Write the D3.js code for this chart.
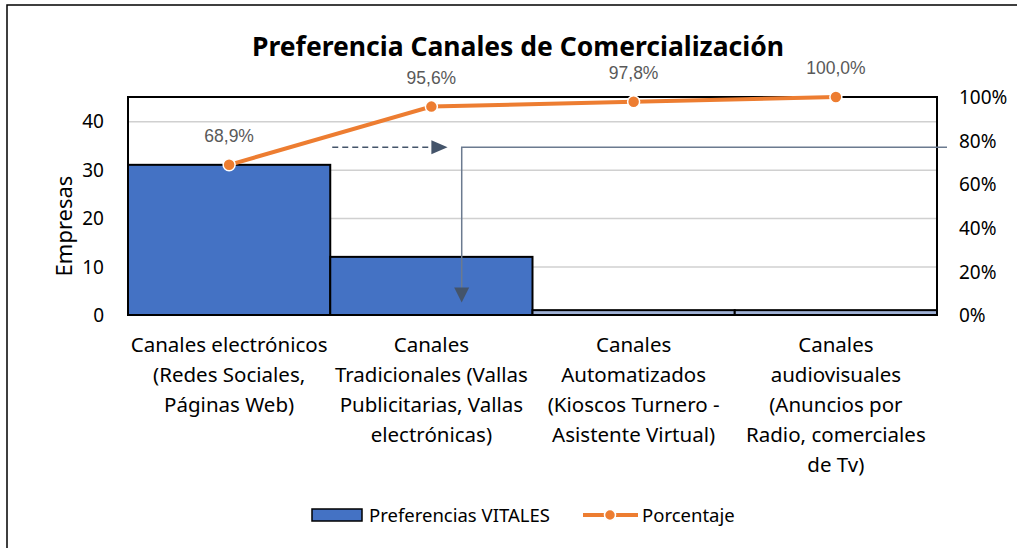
<!DOCTYPE html>
<html lang="es">
<head>
  <meta charset="UTF-8" />
  <title>Preferencia Canales de Comercialización</title>
  <style>
    *{margin:0;padding:0;box-sizing:border-box}
    body{background:#fff;width:1017px;height:548px;overflow:hidden}
    svg{display:block;font-family:"Noto Sans",sans-serif}
  </style>
</head>
<body>
  <svg id="chart" width="1017" height="548"></svg>

  <script src="https://d3js.org/d3.v7.min.js"></script>
  <script>
    // data
    const categories = ['Canales electrónicos', 'Canales Tradicionales', 'Canales Automatizados', 'Canales audiovisuales'];
    const catLines = [
      ['Canales electrónicos', '(Redes Sociales,', 'Páginas Web)'],
      ['Canales', 'Tradicionales (Vallas', 'Publicitarias, Vallas', 'electrónicas)'],
      ['Canales', 'Automatizados', '(Kioscos Turnero -', 'Asistente Virtual)'],
      ['Canales', 'audiovisuales', '(Anuncios por', 'Radio, comerciales', 'de Tv)']
    ];
    const empresas = [31, 12, 1, 1];
    const porcentaje = [0.689, 0.956, 0.978, 1.0];
    const leftTicks = [0, 10, 20, 30, 40];
    const rightTicks = [0, 0.2, 0.4, 0.6, 0.8, 1];

    const W = 1017, H = 548;
    const plot = { l: 128, r: 937, t: 97, b: 315 };
    const blue = '#4472C4', orange = '#ED7D31', slate = '#44546A';
    const font = '"Noto Sans", sans-serif';

    const svg = d3.select('#chart');

    // outer frame (runs off the right and bottom edge)
    svg.append('path')
      .attr('d', `M7,${H + 5}V5H${W + 5}`)
      .attr('fill', 'none').attr('stroke', '#000').attr('stroke-width', 1.5);

    const x = d3.scaleBand().domain(categories).range([plot.l, plot.r]).padding(0);
    const yL = d3.scaleLinear().domain([0, 45]).range([plot.b, plot.t]);
    const yR = d3.scaleLinear().domain([0, 1]).range([plot.b, plot.t]);

    const locale = d3.formatLocale({ decimal: ',', thousands: '.', grouping: [3], currency: ['', '€'] });
    const pct1 = locale.format('.1%');
    const pct0 = locale.format('.0%');

    // gridlines
    svg.append('g')
      .attr('transform', `translate(${plot.l},0)`)
      .call(d3.axisLeft(yL).tickValues(leftTicks.slice(1)).tickSize(-(plot.r - plot.l)).tickFormat(''))
      .call(g => g.select('.domain').remove())
      .call(g => g.selectAll('line').attr('stroke', '#d0d0d0').attr('stroke-width', 1.5));

    // bars
    svg.append('g').selectAll('rect')
      .data(empresas)
      .join('rect')
      .attr('x', (d, i) => x(categories[i]))
      .attr('y', d => yL(d))
      .attr('width', x.bandwidth())
      .attr('height', d => yL(0) - yL(d))
      .attr('fill', d => d > 2 ? blue : '#9fb1d6')
      .attr('stroke', '#000').attr('stroke-width', 2);

    // plot border
    svg.append('rect')
      .attr('x', plot.l).attr('y', plot.t)
      .attr('width', plot.r - plot.l).attr('height', plot.b - plot.t)
      .attr('fill', 'none').attr('stroke', '#000').attr('stroke-width', 2);

    // left axis
    svg.append('g')
      .attr('transform', `translate(${plot.l - 10},0)`)
      .call(d3.axisLeft(yL).tickValues(leftTicks).tickSize(0).tickPadding(14))
      .call(g => g.select('.domain').remove())
      .call(g => g.selectAll('text').attr('font-size', 19).attr('font-family', font).attr('fill', '#000').attr('dy', '0.35em'));

    // right axis
    svg.append('g')
      .attr('transform', `translate(${plot.r + 8},0)`)
      .call(d3.axisRight(yR).tickValues(rightTicks).tickSize(0).tickPadding(14).tickFormat(pct0))
      .call(g => g.select('.domain').remove())
      .call(g => g.selectAll('text').attr('font-size', 19).attr('font-family', font).attr('fill', '#000').attr('dy', '0.35em'));

    // y axis title
    svg.append('text')
      .attr('transform', `translate(72,${(plot.t + plot.b) / 2 + 20}) rotate(-90)`)
      .attr('text-anchor', 'middle')
      .attr('font-size', 22)
      .text('Empresas');

    // category labels
    svg.append('g').selectAll('text')
      .data(catLines)
      .join('text')
      .attr('text-anchor', 'middle')
      .attr('font-size', 20.5)
      .attr('x', (d, i) => x(categories[i]) + x.bandwidth() / 2)
      .attr('y', plot.b + 37)
      .selectAll('tspan')
      .data(d => d)
      .join('tspan')
      .attr('x', function () { return this.parentNode.getAttribute('x'); })
      .attr('dy', (d, i) => i === 0 ? 0 : 30)
      .text(d => d);

    // annotation arrows
    const b2 = x(categories[1]), bw = x.bandwidth();
    const arrowY = yR(0.77);
    svg.append('line')
      .attr('x1', b2 + 2).attr('x2', b2 + bw * 0.5)
      .attr('y1', arrowY).attr('y2', arrowY)
      .attr('stroke', slate).attr('stroke-width', 1.5).attr('stroke-dasharray', '6,4');
    svg.append('path')
      .attr('d', `M${b2 + bw * 0.5},${arrowY - 7}L${b2 + bw * 0.58},${arrowY}L${b2 + bw * 0.5},${arrowY + 7}Z`)
      .attr('fill', slate);

    const elbowX = b2 + bw * 0.65;
    const tipY = yL(2.6);
    svg.append('path')
      .attr('d', `M${plot.r + 10},${arrowY}H${elbowX}V${tipY - 12}`)
      .attr('fill', 'none').attr('stroke', '#6b7a8f').attr('stroke-width', 1.5);
    svg.append('path')
      .attr('d', `M${elbowX - 7.5},${tipY - 15}L${elbowX},${tipY}L${elbowX + 7.5},${tipY - 15}Z`)
      .attr('fill', slate);

    // cumulative percentage line
    const cx = i => x(categories[i]) + bw / 2;
    svg.append('path')
      .datum(porcentaje)
      .attr('d', d3.line().x((d, i) => cx(i)).y(d => yR(d)))
      .attr('fill', 'none').attr('stroke', orange).attr('stroke-width', 4);

    svg.append('g').selectAll('circle')
      .data(porcentaje)
      .join('circle')
      .attr('cx', (d, i) => cx(i)).attr('cy', d => yR(d))
      .attr('r', 6)
      .attr('fill', orange).attr('stroke', '#fff').attr('stroke-width', 1.5);

    svg.append('g').selectAll('text')
      .data(porcentaje)
      .join('text')
      .attr('x', (d, i) => cx(i)).attr('y', d => yR(d) - 23)
      .attr('text-anchor', 'middle')
      .attr('font-family', '"Liberation Sans", Arial, sans-serif')
      .attr('font-size', 17.5)
      .attr('fill', '#595959')
      .text(d => pct1(d));

    // title
    svg.append('text')
      .attr('x', 518).attr('y', 56)
      .attr('text-anchor', 'middle')
      .attr('font-size', 26.5).attr('font-weight', 'bold')
      .text('Preferencia Canales de Comercialización');

    // legend
    const leg = svg.append('g').attr('font-size', 18.5);
    leg.append('rect').attr('x', 312).attr('y', 509).attr('width', 50).attr('height', 12)
      .attr('fill', blue).attr('stroke', '#000').attr('stroke-width', 1.5);
    leg.append('text').attr('x', 369).attr('y', 522).text('Preferencias VITALES');
    leg.append('line').attr('x1', 583).attr('x2', 638).attr('y1', 515).attr('y2', 515)
      .attr('stroke', orange).attr('stroke-width', 4);
    leg.append('circle').attr('cx', 610).attr('cy', 515).attr('r', 5.5)
      .attr('fill', orange).attr('stroke', '#fff').attr('stroke-width', 1.5);
    leg.append('text').attr('x', 642).attr('y', 522).text('Porcentaje');
  </script>
</body>
</html>
